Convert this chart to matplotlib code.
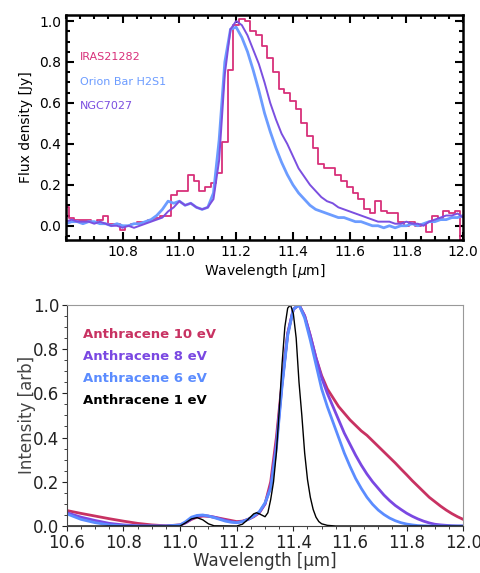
import numpy as np
import matplotlib.pyplot as plt
from matplotlib.ticker import MultipleLocator

wl_obs = np.round(np.arange(10.60, 12.001, 0.02), 2)

iras = [0.09, 0.04, 0.03, 0.03, 0.03, 0.02, 0.03, 0.05, 0.01, 0.01,
        -0.02, 0.00, 0.01, 0.02, 0.02, 0.03, 0.04, 0.05, 0.05, 0.15,
        0.17, 0.17, 0.25, 0.22, 0.17, 0.19, 0.21, 0.26, 0.41, 0.76,
        0.98, 1.01, 1.00, 0.95, 0.93, 0.88, 0.82, 0.75, 0.67, 0.65,
        0.61, 0.57, 0.50, 0.44, 0.38, 0.30, 0.28, 0.28, 0.25, 0.22,
        0.19, 0.16, 0.13, 0.08, 0.06, 0.12, 0.07, 0.06, 0.06, 0.02,
        0.00, 0.02, 0.00, 0.01, -0.03, 0.05, 0.04, 0.07, 0.06, 0.07,
        -0.07]

ngc = [0.02, 0.03, 0.02, 0.02, 0.02, 0.01, 0.02, 0.01, 0.00, 0.00,
       -0.01, 0.00, -0.01, 0.00, 0.01, 0.02, 0.03, 0.04, 0.07, 0.09,
       0.12, 0.10, 0.11, 0.09, 0.08, 0.09, 0.13, 0.32, 0.74, 0.96,
       1.00, 0.98, 0.93, 0.86, 0.79, 0.70, 0.60, 0.52, 0.45, 0.40,
       0.34, 0.28, 0.24, 0.20, 0.17, 0.14, 0.12, 0.11, 0.09, 0.08,
       0.07, 0.06, 0.05, 0.04, 0.03, 0.02, 0.02, 0.02, 0.01, 0.01,
       0.02, 0.01, 0.01, 0.00, 0.02, 0.03, 0.04, 0.05, 0.05, 0.06,
       0.04]

orion = [0.01, 0.02, 0.02, 0.01, 0.02, 0.02, 0.01, 0.01, 0.00, 0.01,
         0.00, 0.00, 0.01, 0.01, 0.02, 0.03, 0.05, 0.08, 0.12, 0.11,
         0.12, 0.10, 0.11, 0.09, 0.08, 0.09, 0.16, 0.42, 0.80, 0.96,
         0.97, 0.92, 0.85, 0.76, 0.66, 0.55, 0.46, 0.38, 0.31, 0.25,
         0.20, 0.16, 0.13, 0.10, 0.08, 0.07, 0.06, 0.05, 0.04, 0.04,
         0.03, 0.02, 0.02, 0.01, 0.00, 0.00, -0.01, 0.00, -0.01, 0.00,
         0.00, 0.01, 0.00, 0.01, 0.02, 0.02, 0.03, 0.03, 0.04, 0.04,
         0.05]

# ---- bottom panel: model spectra
wl_mod = [10.60, 10.65, 10.70, 10.75, 10.80, 10.85, 10.90, 10.95, 11.00, 11.02,
          11.04, 11.06, 11.08, 11.10, 11.12, 11.14, 11.16, 11.18, 11.20, 11.22,
          11.24, 11.26, 11.28, 11.30, 11.32, 11.34, 11.36, 11.38, 11.40, 11.42,
          11.44, 11.46, 11.48, 11.50, 11.52, 11.54, 11.56, 11.58, 11.60, 11.62,
          11.64, 11.66, 11.68, 11.70, 11.72, 11.74, 11.76, 11.78, 11.80, 11.82,
          11.84, 11.86, 11.88, 11.90, 11.92, 11.94, 11.96, 11.98, 12.00]

ev10 = [0.070, 0.057, 0.045, 0.033, 0.022, 0.012, 0.005, 0.001, 0.005, 0.015,
        0.030, 0.040, 0.045, 0.044, 0.040, 0.035, 0.030, 0.025, 0.020, 0.022,
        0.030, 0.042, 0.060, 0.100, 0.200, 0.400, 0.650, 0.870, 0.980, 1.000,
        0.950, 0.860, 0.760, 0.680, 0.620, 0.580, 0.540, 0.510, 0.480, 0.455,
        0.430, 0.410, 0.385, 0.360, 0.335, 0.310, 0.285, 0.258, 0.232, 0.205,
        0.180, 0.155, 0.130, 0.110, 0.090, 0.072, 0.056, 0.042, 0.030]

ev8 = [0.060, 0.040, 0.025, 0.012, 0.005, 0.001, 0.000, 0.000, 0.004, 0.015,
       0.032, 0.045, 0.048, 0.045, 0.040, 0.033, 0.026, 0.020, 0.016, 0.020,
       0.030, 0.044, 0.062, 0.100, 0.180, 0.370, 0.640, 0.870, 0.980, 1.000,
       0.950, 0.860, 0.760, 0.670, 0.600, 0.540, 0.480, 0.420, 0.370, 0.320,
       0.275, 0.235, 0.200, 0.170, 0.140, 0.115, 0.093, 0.075, 0.058, 0.044,
       0.032, 0.022, 0.014, 0.008, 0.005, 0.003, 0.001, 0.000, 0.000]

ev6 = [0.055, 0.030, 0.015, 0.005, 0.001, 0.000, 0.000, 0.000, 0.005, 0.020,
       0.040, 0.048, 0.050, 0.045, 0.038, 0.030, 0.022, 0.017, 0.015, 0.020,
       0.030, 0.045, 0.065, 0.105, 0.170, 0.350, 0.630, 0.860, 0.980, 1.000,
       0.940, 0.840, 0.730, 0.620, 0.540, 0.470, 0.400, 0.330, 0.270, 0.215,
       0.170, 0.130, 0.098, 0.072, 0.052, 0.036, 0.024, 0.015, 0.009, 0.005,
       0.002, 0.001, 0.000, 0.000, 0.000, 0.000, 0.000, 0.000, 0.000]

wl_ev1 = [10.60, 11.00, 11.02, 11.04, 11.06, 11.08, 11.10, 11.12, 11.20, 11.22,
          11.24, 11.26, 11.27, 11.28, 11.30, 11.31, 11.32, 11.33, 11.34, 11.35,
          11.36, 11.37, 11.38, 11.39, 11.40, 11.41, 11.42, 11.43, 11.44, 11.45,
          11.46, 11.47, 11.48, 11.49, 11.50, 11.52, 11.55, 12.00]
ev1 = [0.000, 0.000, 0.015, 0.032, 0.038, 0.028, 0.010, 0.001, 0.000, 0.008,
       0.030, 0.055, 0.060, 0.055, 0.042, 0.060, 0.120, 0.200, 0.330, 0.520,
       0.730, 0.900, 0.985, 1.000, 0.960, 0.850, 0.650, 0.500, 0.330, 0.210,
       0.130, 0.075, 0.040, 0.020, 0.010, 0.003, 0.000, 0.000]

c_iras, c_orion, c_ngc = '#d8307a', '#6c9cff', '#7b4fe0'
c10, c8, c6 = '#c83262', '#7a48e2', '#5b8cff'

fig = plt.figure(figsize=(4.81, 5.73), dpi=100)

# top panel, IDL-looking
ax1 = fig.add_axes([0.137, 0.581, 0.826, 0.393])
ax1.plot(wl_obs, iras, drawstyle='steps-mid', color=c_iras, lw=1.3)
ax1.plot(wl_obs, orion, color=c_orion, lw=2.0)
ax1.plot(wl_obs, ngc, color=c_ngc, lw=1.4)
ax1.set_xlim(10.6, 12.0)
ax1.set_ylim(-0.07, 1.03)
ax1.set_xticks([10.8, 11.0, 11.2, 11.4, 11.6, 11.8, 12.0])
ax1.set_yticks([0.0, 0.2, 0.4, 0.6, 0.8, 1.0])
ax1.xaxis.set_minor_locator(MultipleLocator(0.05))
ax1.yaxis.set_minor_locator(MultipleLocator(0.05))
ax1.tick_params(which='both', direction='in', top=True, right=True,
                labelsize=10, width=1.5)
ax1.tick_params(which='major', length=6)
ax1.tick_params(which='minor', length=3)
for s in ax1.spines.values():
    s.set_linewidth(1.8)
ax1.set_xlabel('Wavelength [$\\mu$m]', fontsize=10, labelpad=2)
ax1.set_ylabel('Flux density [Jy]', fontsize=10)
ax1.text(0.035, 0.80, 'IRAS21282', color=c_iras, fontsize=8, transform=ax1.transAxes)
ax1.text(0.035, 0.69, 'Orion Bar H2S1', color=c_orion, fontsize=8, transform=ax1.transAxes)
ax1.text(0.035, 0.58, 'NGC7027', color=c_ngc, fontsize=8, transform=ax1.transAxes)

# bottom panel
ax2 = fig.add_axes([0.139, 0.082, 0.824, 0.386])
ax2.plot(wl_mod, ev10, color=c10, lw=2.0)
ax2.plot(wl_mod, ev8, color=c8, lw=2.0)
ax2.plot(wl_mod, ev6, color=c6, lw=2.0)
ax2.plot(wl_ev1, ev1, color='black', lw=1.0)
ax2.set_xlim(10.6, 12.0)
ax2.set_ylim(0.0, 1.0)
ax2.set_xticks([10.6, 10.8, 11.0, 11.2, 11.4, 11.6, 11.8, 12.0])
ax2.set_yticks([0.0, 0.2, 0.4, 0.6, 0.8, 1.0])
ax2.xaxis.set_minor_locator(MultipleLocator(0.05))
ax2.yaxis.set_minor_locator(MultipleLocator(0.05))
ax2.tick_params(which='both', direction='out', labelsize=12, colors='#222222')
ax2.tick_params(which='major', pad=2)
ax2.tick_params(which='minor', length=2)
for s in ax2.spines.values():
    s.set_color('#999999')
    s.set_linewidth(0.8)
ax2.spines['left'].set_color('#444444')
ax2.spines['bottom'].set_color('#444444')
ax2.set_xlabel('Wavelength [\u03bcm]', fontsize=12, color='#333333', labelpad=0)
ax2.set_ylabel('Intensity [arb]', fontsize=12, color='#444444', labelpad=-2)
ax2.text(0.04, 0.85, 'Anthracene 10 eV', color=c10, fontsize=9.5, fontweight='bold', transform=ax2.transAxes)
ax2.text(0.04, 0.75, 'Anthracene 8 eV', color=c8, fontsize=9.5, fontweight='bold', transform=ax2.transAxes)
ax2.text(0.04, 0.65, 'Anthracene 6 eV', color=c6, fontsize=9.5, fontweight='bold', transform=ax2.transAxes)
ax2.text(0.04, 0.55, 'Anthracene 1 eV', color='black', fontsize=9.5, fontweight='bold', transform=ax2.transAxes)

fig.savefig('out.png', dpi=100)
